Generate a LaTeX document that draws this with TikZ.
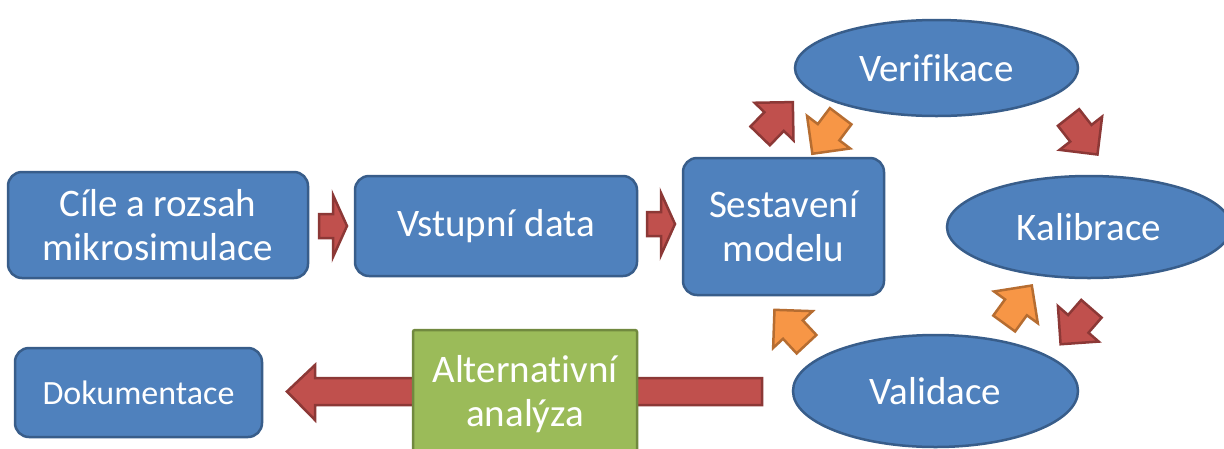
\documentclass[tikz,border=0pt]{standalone}
\usepackage{fontspec}
\setmainfont[Ligatures=NoCommon]{Carlito}
\usepackage{tikz}
\usepackage{xcolor}
\usetikzlibrary{shapes.geometric}

\definecolor{boxblue}{HTML}{4F81BD}
\definecolor{boxblueline}{HTML}{385D8A}
\definecolor{boxgreen}{HTML}{9BBB59}
\definecolor{boxgreenline}{HTML}{71893F}
\definecolor{arrred}{HTML}{C0504D}
\definecolor{arrredline}{HTML}{8C3836}
\definecolor{arrorange}{HTML}{F79646}
\definecolor{arrorangeline}{HTML}{B66D31}

\tikzset{
    stagebox/.style={draw=boxblueline, fill=boxblue, line width=2.5pt, rounded corners=14pt,
        text=white, align=center, inner sep=0pt, font=\fontsize{39}{44}\selectfont},
    stageoval/.style={stagebox, ellipse},
    altbox/.style={stagebox, draw=boxgreenline, fill=boxgreen, rounded corners=2pt},
    redarr/.style={draw=arrredline, fill=arrred, line width=2.5pt, line join=miter},
    orangearr/.style={draw=arrorangeline, fill=arrorange, line width=2.5pt, line join=miter},
    diagarrow/.pic={\draw[pic actions] (-23.5,-13.5) -- (-3.5,-13.5) -- (-3.5,-27) -- (23.5,0)
        -- (-3.5,27) -- (-3.5,13.5) -- (-23.5,13.5) -- cycle;},
    flatarrow/.pic={\draw[pic actions] (-14,-12) -- (0,-12) -- (0,-31) -- (14,0)
        -- (0,31) -- (0,12) -- (-14,12) -- cycle;}
}

\begin{document}
\begin{tikzpicture}[x=1pt, y=-1pt]
    \useasboundingbox[fill=white] (0,0) rectangle (1224,448);

    % The long arrow to the documentation (behind the green box)
    \draw[redarr] (762,378) -- (315,378) -- (315,365) -- (287,391.5) -- (315,420)
        -- (315,405) -- (762,405) -- cycle;

    % Main chain of stages
    \node[stagebox, minimum width=300, minimum height=106] (goals) at (158,225)
        {Cíle a rozsah\\mikrosimulace};
    \node[stagebox, minimum width=282, minimum height=100] (input) at (496,226) {Vstupní data};
    \node[stagebox, minimum width=201, minimum height=137] (model) at (783.5,226.5)
        {Sestavení\\modelu};
    \node[stagebox, minimum width=247, minimum height=89, font=\fontsize{34}{40}\selectfont]
        (docs) at (138.5,392.5) {Dokumentace};
    \node[altbox, minimum width=224, minimum height=128] (alt) at (525,394)
        {Alternativní\\analýza};

    % The loop of checks
    \node[stageoval, minimum width=283, minimum height=96] (verif) at (936.5,68) {Verifikace};
    \node[stageoval, minimum width=284, minimum height=102] (calib) at (1089,227) {Kalibrace};
    \node[stageoval, minimum width=285, minimum height=112] (valid) at (935.5,391) {Validace};

    % Block arrows between the stages
    \pic[redarr] at (333,226) {flatarrow};
    \pic[redarr] at (661,224) {flatarrow};
    \pic[redarr, rotate=46] at (776.5,119) {diagarrow};
    \pic[orangearr, rotate=-127] at (826.5,135) {diagarrow};
    \pic[redarr, rotate=-52] at (1083,136) {diagarrow};
    \pic[redarr, rotate=-131] at (1076,326.5) {diagarrow};
    \pic[orangearr, rotate=54] at (1018,304.5) {diagarrow};
    \pic[orangearr, rotate=133] at (790.5,327) {diagarrow};
\end{tikzpicture}
\end{document}
